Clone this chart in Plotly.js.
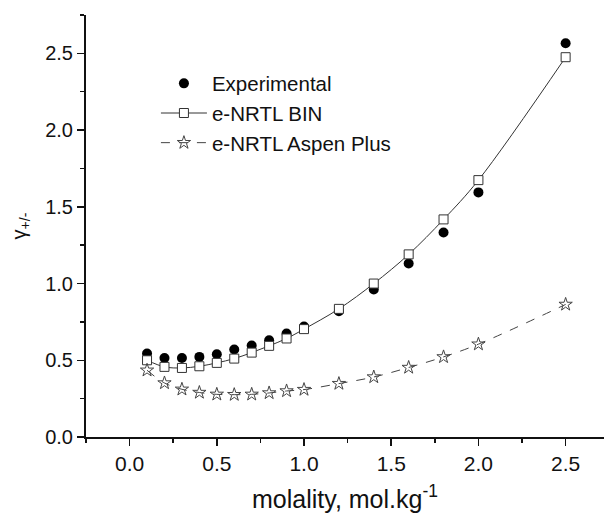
<!DOCTYPE html>
<html>
<head>
<meta charset="utf-8">
<script src="https://cdn.plot.ly/plotly-3.0.1.min.js"></script>
<style>html,body{margin:0;padding:0;background:#fff;}#chart{width:604px;height:513px;}</style>
</head>
<body>
<div id="chart"></div>
<script>
// Data
const expX = [0.1, 0.2, 0.3, 0.4, 0.5, 0.6, 0.7, 0.8, 0.9, 1.0, 1.2, 1.4, 1.6, 1.8, 2.0, 2.5];
const expY = [0.544, 0.515, 0.515, 0.522, 0.539, 0.570, 0.596, 0.631, 0.674, 0.720, 0.820, 0.961, 1.131, 1.333, 1.594, 2.566];

const binX = [0.1, 0.2, 0.3, 0.4, 0.5, 0.6, 0.7, 0.8, 0.9, 1.0, 1.2, 1.4, 1.6, 1.8, 2.0, 2.5];
const binY = [0.500, 0.457, 0.450, 0.461, 0.483, 0.511, 0.550, 0.594, 0.642, 0.703, 0.835, 1.000, 1.190, 1.418, 1.674, 2.475];

const aspX = [0.1, 0.2, 0.3, 0.4, 0.5, 0.6, 0.7, 0.8, 0.9, 1.0, 1.2, 1.4, 1.6, 1.8, 2.0, 2.5];
const aspY = [0.435, 0.352, 0.311, 0.290, 0.278, 0.276, 0.278, 0.287, 0.300, 0.309, 0.348, 0.391, 0.453, 0.522, 0.605, 0.864];

const seriesNames = ["Experimental", "e-NRTL BIN", "e-NRTL Aspen Plus"];
const xTitle = "molality, mol.kg<sup>-1</sup>";
const yTitle = "γ<sub>+/-</sub>";

const FONT = "Liberation Sans, Arial, sans-serif";

const traces = [
  {
    x: expX, y: expY, name: seriesNames[0], type: "scatter", mode: "markers",
    legendgroup: "a",
    marker: {symbol: "circle", size: 10, color: "#000"}
  },
  {
    x: binX, y: binY, name: seriesNames[1], type: "scatter", mode: "lines+markers",
    legendgroup: "b",
    line: {color: "#333", width: 1, shape: "spline"},
    marker: {symbol: "square", size: 9, color: "#fff", line: {color: "#333", width: 1}}
  },
  {
    x: aspX, y: aspY, name: seriesNames[2], type: "scatter", mode: "lines+markers",
    legendgroup: "c",
    line: {color: "#444", width: 1, dash: "dash", shape: "spline"},
    marker: {symbol: "star-open", size: 10, color: "#444", line: {color: "#444", width: 1}}
  }
];

const layout = {
  width: 604, height: 513,
  margin: {l: 86, r: 0, t: 15, b: 76},
  paper_bgcolor: "#fff", plot_bgcolor: "#fff",
  font: {family: FONT, color: "#111", size: 20},
  showlegend: true,
  legend: {
    x: 0.135, y: 0.885, xanchor: "left", yanchor: "top",
    bgcolor: "rgba(0,0,0,0)", font: {family: FONT, size: 20.5, color: "#111"},
    traceorder: "grouped", tracegroupgap: 0, itemwidth: 46
  },
  xaxis: {
    range: [-0.25, 2.72], tick0: 0, dtick: 0.5, tickformat: ".1f",
    showline: true, linecolor: "#111", linewidth: 2, mirror: false,
    ticks: "outside", ticklen: 7, tickwidth: 1.5, tickcolor: "#111",
    minor: {dtick: 0.25, tick0: 0, ticks: "outside", ticklen: 4, tickwidth: 1.5, tickcolor: "#111"},
    showgrid: false, zeroline: false,
    tickfont: {family: FONT, size: 21, color: "#111"},
    title: {text: xTitle, font: {family: FONT, size: 25, color: "#111"}, standoff: 27}
  },
  yaxis: {
    range: [0, 2.75], tick0: 0, dtick: 0.5, tickformat: ".1f",
    showline: true, linecolor: "#111", linewidth: 2, mirror: false,
    ticks: "outside", ticklen: 7, tickwidth: 1.5, tickcolor: "#111",
    minor: {dtick: 0.25, tick0: 0, ticks: "outside", ticklen: 4, tickwidth: 1.5, tickcolor: "#111"},
    showgrid: false, zeroline: false,
    tickfont: {family: FONT, size: 20, color: "#111"},
    title: {text: yTitle, font: {family: FONT, size: 20, color: "#111"}, standoff: 13}
  }
};

Plotly.newPlot("chart", traces, layout, {staticPlot: true, displayModeBar: false});
</script>
</body>
</html>
